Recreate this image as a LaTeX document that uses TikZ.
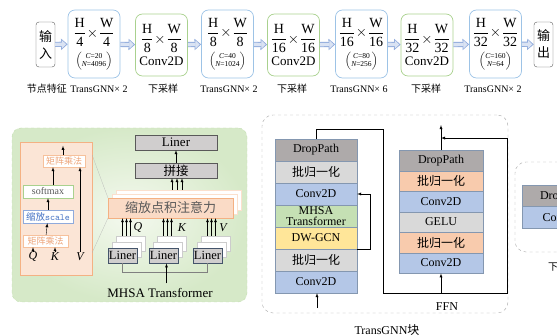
\documentclass[tikz,border=0pt]{standalone}
\usepackage{amsmath}
\usepackage{fontspec}
\setmainfont{Liberation Serif}
\newfontfamily\cjk{Noto Sans CJK SC}
\usetikzlibrary{arrows.meta,calc}

\definecolor{iogray}{HTML}{595959}
\definecolor{tblue}{HTML}{9DC3E6}
\definecolor{tgreen}{HTML}{A9D18E}
\definecolor{hedge}{HTML}{8FAADC}
\definecolor{hfill}{HTML}{DAE3F3}
\definecolor{pnlout}{HTML}{D6E9C8}
\definecolor{pnlin}{HTML}{F4F9EF}
\definecolor{orfill}{HTML}{FBE5D6}
\definecolor{oredge}{HTML}{F4B183}
\definecolor{ortext}{HTML}{EDA57A}
\definecolor{bltext}{HTML}{4472C4}
\definecolor{lngray}{HTML}{D0CECE}
\definecolor{lnedge}{HTML}{44546A}
\definecolor{dpgray}{HTML}{AEAAAA}
\definecolor{bngray}{HTML}{D9D9D9}
\definecolor{convblue}{HTML}{B4C7E7}
\definecolor{mhgreen}{HTML}{C5E0B4}
\definecolor{dwyellow}{HTML}{FFE699}
\definecolor{bnorange}{HTML}{F8CBAD}
\definecolor{stkedge}{HTML}{8497B0}

\newcommand\hw[1]{$\dfrac{\text{H}}{\text{#1}}\!\times\!\dfrac{\text{W}}{\text{#1}}$}
\newcommand\cn[2]{{\fontsize{7.5}{7.5}\selectfont$\biggl(\begin{array}{@{}c@{}}\textit{C}\text{=}\text{#1}\\\textit{N}\text{=}\text{#2}\end{array}\biggr)$}}

\tikzset{
  io/.style={draw=iogray, rounded corners=3pt, minimum width=19pt, minimum height=45pt, inner sep=0pt, align=center, font=\cjk\fontsize{13}{17}\selectfont},
  tb/.style={draw=#1, rounded corners=7pt, line width=0.7pt, minimum width=52pt, inner sep=0pt, align=center, font=\fontsize{14}{15}\selectfont},
  hol/.style={draw=hfill, line width=3.4pt, shorten >=1.4pt, -{Triangle[length=4.4pt,width=8pt]},
    preaction={draw=hedge, line width=5.2pt, shorten >=0pt, -{Triangle[length=6.6pt,width=11pt]}}},
  sub/.style={font=\fontsize{10}{12}\selectfont},
  panel/.style={draw=tgreen!70, dashed, rounded corners=9pt, inner color=pnlin, outer color=pnlout, minimum width=235pt, minimum height=174pt},
  mm/.style={draw=oredge!80, fill=white, text=ortext, inner sep=0pt, minimum height=12pt, font=\cjk\fontsize{9}{10}\selectfont},
  gbox/.style={draw=iogray, fill=lngray, minimum width=82pt, minimum height=15pt, inner sep=0pt, font=\fontsize{13}{14}\selectfont},
  lnr/.style={draw=lnedge, line width=0.9pt, fill=lngray, minimum width=29pt, minimum height=15pt, inner sep=0pt, font=\fontsize{12.5}{13}\selectfont},
  ghost/.style={draw=gray!40, fill=white, minimum width=#1, minimum height=15pt},
  row/.style={draw=stkedge, fill=#1, minimum width=82pt, minimum height=22pt, inner sep=0pt, align=center, font=\fontsize{12}{10.5}\selectfont},
  dashbox/.style={draw=gray!70, dashed, rounded corners=11pt},
  qkv/.style={font=\itshape\fontsize{12}{12}\selectfont, inner sep=1pt}
}

\begin{document}
\begin{tikzpicture}[x=1pt,y=-1pt]
\useasboundingbox (0,0) rectangle (557,336);
\clip (0,0) rectangle (557,336);

\node[io] (b0) at (45.5,44.5) {输\\入};
\node[tb=tblue, minimum height=68pt] (t1) at (94,44) {\hw{4}\\[4pt]\cn{20}{4096}};
\node[tb=tgreen, minimum height=62pt] (t2) at (161.5,45) {\hw{8}\\[3pt]{\fontsize{13}{14}\selectfont Conv2D}};
\node[tb=tblue, minimum height=68pt] (t3) at (227.5,44) {\hw{8}\\[4pt]\cn{40}{1024}};
\node[tb=tgreen, minimum height=62pt] (t4) at (293.5,45) {\hw{16}\\[3pt]{\fontsize{13}{14}\selectfont Conv2D}};
\node[tb=tblue, minimum height=68pt] (t5) at (361.5,44) {\hw{16}\\[4pt]\cn{80}{256}};
\node[tb=tgreen, minimum height=62pt] (t6) at (427,45) {\hw{32}\\[3pt]{\fontsize{13}{14}\selectfont Conv2D}};
\node[tb=tblue, minimum height=68pt] (t7) at (495.5,44) {\hw{32}\\[4pt]\cn{160}{64}};
\node[io] (b8) at (543.5,44.5) {输\\出};
\draw[hol] (b0) -- (t1);
\draw[hol] (t1) -- (t2);
\draw[hol] (t2) -- (t3);
\draw[hol] (t3) -- (t4);
\draw[hol] (t4) -- (t5);
\draw[hol] (t5) -- (t6);
\draw[hol] (t6) -- (t7);
\draw[hol] (t7) -- (b8);
\node[sub] (s0) at (47,89) {\cjk 节点特征};
\node[sub] (s1) at (99,89) {TransGNN× 2};
\node[sub] (s2) at (163,89) {\cjk 下采样};
\node[sub] (s3) at (229,89) {TransGNN× 2};
\node[sub] (s4) at (292,89) {\cjk 下采样};
\node[sub] (s5) at (359,89) {TransGNN× 6};
\node[sub] (s6) at (426,89) {\cjk 下采样};
\node[sub] (s7) at (493,89) {TransGNN× 2};

\node[panel] (mhsa) at (129.5,215) {};
\node[draw=oredge, fill=orfill, minimum width=72pt, minimum height=133pt] (orng) at (56,208.5) {};
\node[mm, minimum width=42pt] (mm2) at (64,161) {矩阵乘法};
\node[draw=tgreen, fill=white, text=iogray, minimum width=50pt, minimum height=13pt, inner sep=0pt, font=\fontsize{10}{10}\selectfont] (soft) at (48,191.5) {softmax};
\node[draw=hedge, fill=white, text=bltext, minimum width=50pt, minimum height=13pt, inner sep=0pt, font=\fontsize{9.5}{10}\selectfont] (scal) at (48,216.5) {{\cjk 缩放}\texttt{scale}};
\node[mm, minimum width=45pt] (mm1) at (45.5,241) {矩阵乘法};
\node[qkv] (q1) at (33,257) {Q};
\node[qkv] (k1) at (55,257) {K};
\node[qkv] (v1) at (80,257) {V};
\draw[-latex] (q1) -- (q1 |- mm1.south);
\draw[-latex] (k1) -- (k1 |- mm1.south);
\draw[-latex] (mm1) -- (scal);
\draw[-latex] (scal) -- (soft);
\draw[-latex] ([xshift=5pt]soft.north) -- ([xshift=5pt]soft.north |- mm2.south);
\draw[-latex] (v1) -- (v1 |- mm2.south);
\draw[-latex] ([xshift=-1pt]mm2.north) -- ++(0,-9);

\draw[gray!60, very thin] ($(orng.north east)!0.1!(orng.south east)$) coordinate (o1) -- (108,198) coordinate (o2);
\draw[gray!60, very thin] ($(orng.north east)!0.83!(orng.south east)$) coordinate (o3) -- (108,218) coordinate (o4);
\foreach \d in {8,4}
  \node[ghost=125pt, draw=oredge!40, minimum height=20pt] at (170.5+\d,208-\d) {};
\node[draw=oredge, fill=bnorange!70, minimum width=125pt, minimum height=20pt, inner sep=0pt, text=iogray, font=\cjk\fontsize{13}{14}\selectfont] (att) at (170.5,208) {缩放点积注意力};
\node[gbox] (ln) at (176,142.5) {Liner};
\node[gbox, font=\cjk\fontsize{12.5}{14}\selectfont] (pj) at (176,170.5) {拼接};
\draw[-latex] (pj) -- (ln);
\foreach \x in {1.5,6.5,11.5}
  \draw[-latex] ([xshift=\x pt,yshift=8pt]att.north) -- ([xshift=\x pt]att.north |- pj.south);
\foreach \n/\x in {1/122.5,2/163.5,3/207.5}{
  \node[ghost=29pt] (l\n b) at (\x+8,243.5) {};
  \node[ghost=29pt] (l\n a) at (\x+4,249.5) {};
  \node[lnr] (l\n) at (\x,255.5) {Liner};
  \foreach \d in {-8,-4,0}
    \draw[-latex] ([xshift=\d pt]l\n b.north) -- ([xshift=\d pt]l\n b.north |- att.south);
}
\node[qkv] (q2) at (138,228) {Q};
\node[qkv] (k2) at (182,228) {K};
\node[qkv] (v2) at (223,228) {V};
\draw[gray] (l1.south) -- ++(0,9) -| (l3.south);
\coordinate (lin) at ($(l2.south)+(3,20)$);
\draw[-latex] (lin) -- (lin |- l2.south);
\node[font=\fontsize{13}{14}\selectfont] (mt) at (160,293) {MHSA Transformer};

\node[dashbox, minimum width=246pt, minimum height=198pt] (tg) at (385,214) {};
\foreach \y/\c/\t [count=\i] in {150/dpgray/DropPath, 172/bngray/{\cjk 批归一化}, 194/convblue/Conv2D,
    216/mhgreen/{MHSA\\Transformer}, 238/dwyellow/DW-GCN, 260/bngray/{\cjk 批归一化}, 282/convblue/Conv2D}
  \node[row=\c] (a\i) at (316,\y) {\t};
\foreach \y/\c/\t [count=\i] in {160.5/dpgray/DropPath, 181/bnorange/{\cjk 批归一化}, 201.5/convblue/Conv2D,
    222/bngray/GELU, 242.5/bnorange/{\cjk 批归一化}, 263/convblue/Conv2D}
  \node[row=\c, minimum width=84pt, minimum height=20.5pt] (f\i) at (441,\y) {\t};
\coordinate (in1) at ($(a7.south)+(1,15)$);
\draw[-latex] (in1) -- (in1 |- a7.south);
\draw[-latex] (a5.south east) -- ++(13,0) |- (a3.east);
\coordinate (jn) at ($(f6.south)+(0,20)$);
\draw (a1.north) |- ++(67,-10) |- (jn);
\draw[-latex] (jn) -- (f6.south);
\draw[-latex] (jn) -- ++(66,0) |- ($(f1.north)+(0,-12)$);
\draw[-latex] (f1.north) -- ++(0,-25);
\node[font=\fontsize{12}{12}\selectfont] (ffn) at (447,307) {FFN};
\node[font=\fontsize{12}{12}\selectfont] (tgl) at (387,330) {TransGNN{\cjk 块}};

\node[dashbox, minimum width=96pt, minimum height=90pt] (ds) at (563,207) {};
\node[row=dpgray] (d1) at (563,196.5) {DropPath};
\node[row=convblue] (d2) at (563,217.5) {Conv2D};
\node[font=\cjk\fontsize{10}{12}\selectfont] (dsl) at (563,267) {下采样};
\end{tikzpicture}
\end{document}
